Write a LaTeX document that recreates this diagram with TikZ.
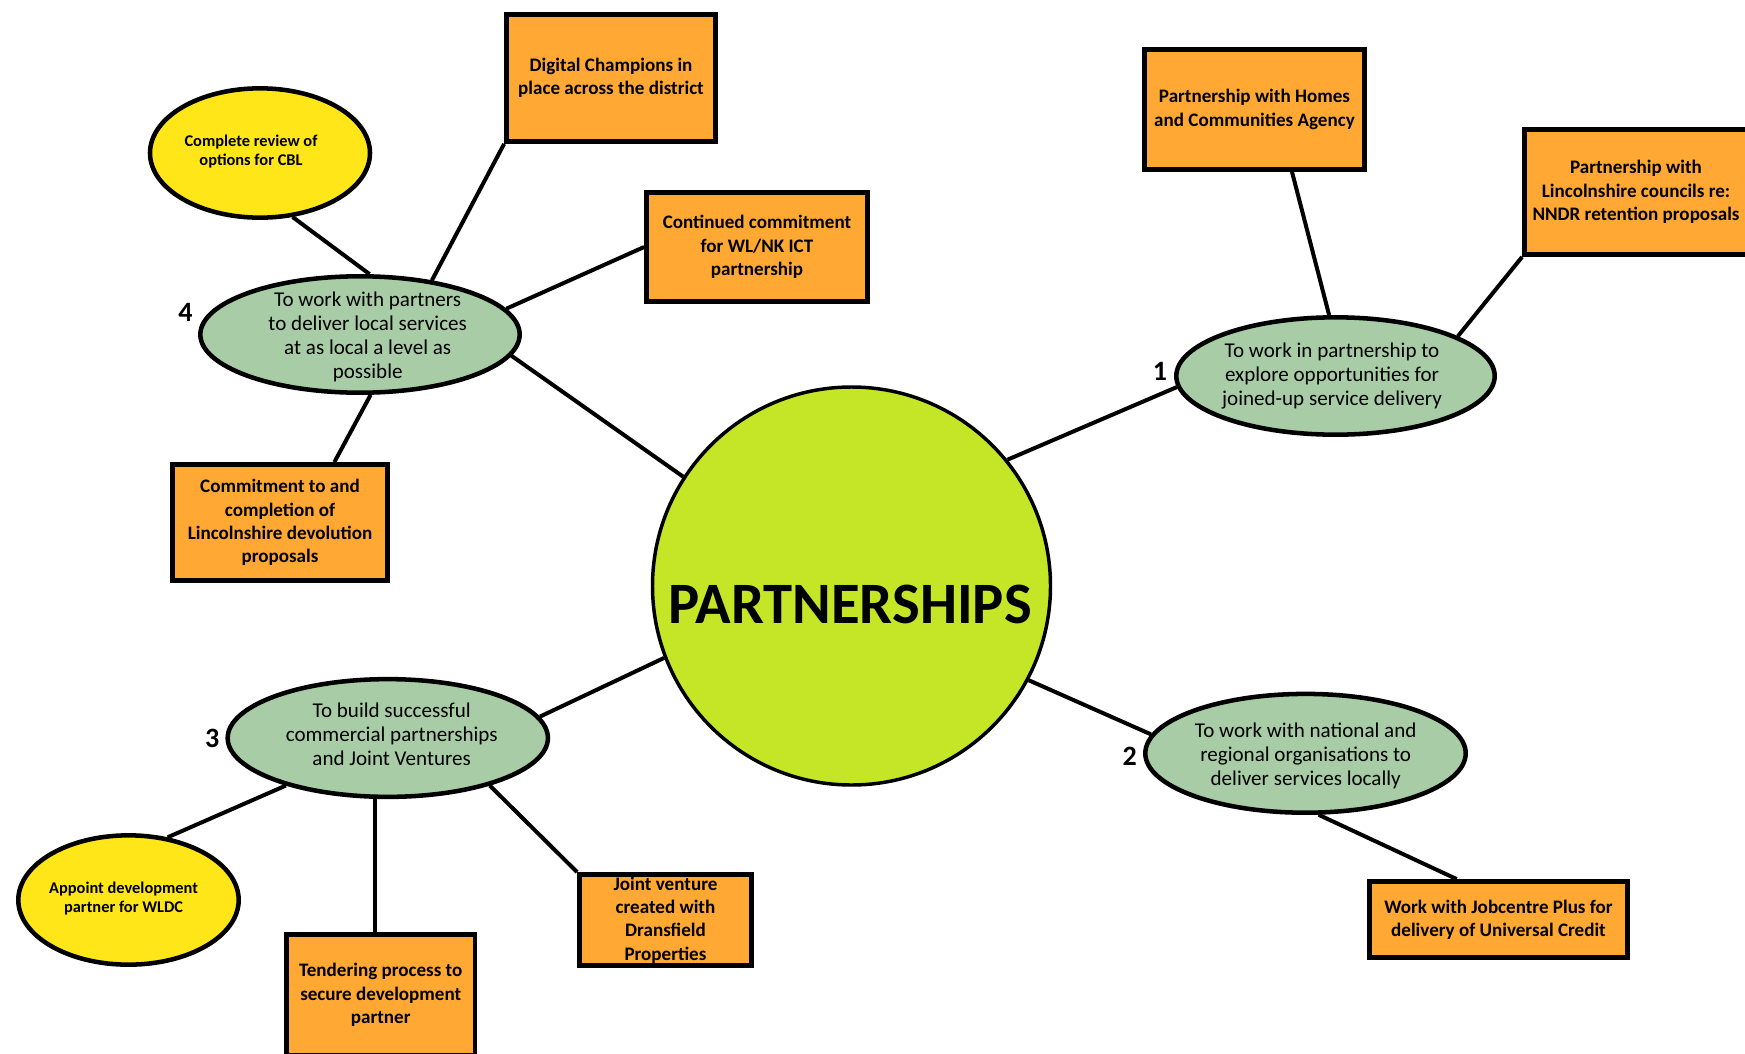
\documentclass[tikz,border=0pt]{standalone}
\usepackage{fontspec}
\setmainfont{Carlito}
\usetikzlibrary{shapes.geometric}
\definecolor{orangebox}{HTML}{FFA833}
\definecolor{greenell}{HTML}{A8CDA6}
\definecolor{yellowell}{HTML}{FFE619}
\definecolor{limec}{HTML}{C5E627}
\tikzset{
 obox/.style={draw=black, line width=3.6pt, fill=orangebox, rectangle, inner sep=0pt, align=center, font=\bfseries\fontsize{14.3}{17.5}\selectfont},
 gell/.style={draw=black, line width=3.4pt, fill=greenell, ellipse, inner sep=0pt},
 yell/.style={draw=black, line width=3.4pt, fill=yellowell, ellipse, inner sep=0pt},
 gtext/.style={inner sep=0pt, align=center, font=\fontsize{15.8}{18}\selectfont},
 ytext/.style={inner sep=0pt, align=center, font=\bfseries\fontsize{12.3}{14.3}\selectfont},
 numlab/.style={inner sep=0pt, font=\bfseries\fontsize{21}{25}\selectfont},
 conn/.style={line width=3pt, draw=black},
}
\begin{document}
\begin{tikzpicture}[x=0.75pt, y=-0.75pt]
\useasboundingbox (0,0) rectangle (1745,1053);
\clip (0,0) rectangle (1745,1053);
\fill[white] (0,0) rectangle (1745,1053);

% centre
\node[circle, draw=black, line width=2.6pt, fill=limec, minimum size=298.5pt, inner sep=0pt] (c) at (851.5,586) {};
\node[inner sep=0pt, font=\bfseries\fontsize{44}{52}\selectfont] (ctext) at (850,604) {PARTNERSHIPS};

% green ellipses
\node[gell, minimum width=239.5pt, minimum height=87.3pt] (e4) at (360,334.5) {};
\node[gell, minimum width=238.8pt, minimum height=88pt] (e1) at (1335.5,376) {};
\node[gell, minimum width=240.2pt, minimum height=88.3pt] (e3) at (387.8,738) {};
\node[gell, minimum width=240.3pt, minimum height=89.1pt] (e2) at (1305.5,753.3) {};

% yellow ellipses
\node[yell, minimum width=165pt, minimum height=97pt] (cr) at (260,153) {};
\node[yell, minimum width=165.3pt, minimum height=97pt] (ap) at (128.5,900) {};

% orange boxes
\node[obox, minimum width=156.75pt, minimum height=95.25pt] (dig) at (611,78) {Digital Champions in\\place across the district};
\node[obox, minimum width=165.75pt, minimum height=81.75pt] (cont) at (757,247) {Continued commitment\\for WL/NK ICT\\partnership};
\node[obox, minimum width=161.25pt, minimum height=87pt] (comm) at (280,522.5) {Commitment to and\\completion of\\Lincolnshire devolution\\proposals};
\node[obox, minimum width=165pt, minimum height=90pt] (homes) at (1254.5,109.5) {Partnership with Homes\\and Communities Agency};
\node[obox, minimum width=167.25pt, minimum height=93.75pt] (lincs) at (1636,192) {Partnership with\\Lincolnshire councils re:\\NNDR retention proposals};
\node[obox, minimum width=193.5pt, minimum height=57pt] (job) at (1498.5,919.5) {Work with Jobcentre Plus for\\delivery of Universal Credit};
\node[obox, minimum width=129pt, minimum height=68.25pt] (joint) at (665.5,920) {Joint venture\\created with\\Dransfield\\Properties};
\node[obox, minimum width=141.4pt, minimum height=90.75pt] (tend) at (380.75,995) {Tendering process to\\secure development\\partner};

% ellipse texts
\node[gtext] (e4t) at (367.7,337) {To work with partners\\to deliver local services\\at as local a level as\\possible};
\node[gtext] (e1t) at (1332,376) {To work in partnership to\\explore opportunities for\\joined-up service delivery};
\node[gtext] (e3t) at (391.7,734.5) {To build successful\\commercial partnerships\\and Joint Ventures};
\node[gtext] (e2t) at (1305.7,756) {To work with national and\\regional organisations to\\deliver services locally};
\node[ytext] (crt) at (251,151.5) {Complete review of\\options for CBL};
\node[ytext] (apt) at (123.6,898.8) {Appoint development\\partner for WLDC};

% numbers
\node[numlab] (n4) at (185.5,312) {4};
\node[numlab] (n1) at (1160,371) {1};
\node[numlab] (n3) at (212.3,738) {3};
\node[numlab] (n2) at (1129.6,756.7) {2};

% connectors
\draw[conn] (c.147.6) -- (e4.-8.4);
\draw[conn] (c.39.6) -- (e1.-176.2);
\draw[conn] (c.201) -- (e3.8.4);
\draw[conn] (c.-28.8) -- (e2.173.3);
\draw[conn] (e4.37.7) -- (dig.south west);
\draw[conn] (e4.10.1) -- (cont.west);
\draw[conn] (e4.81.8) -- (cr.-63.1);
\draw[conn] (e4.-80) -- (comm.48);
\draw[conn] (e1.96.8) -- (homes.-59.6);
\draw[conn] (e1.18.4) -- (lincs.south west);
\draw[conn] (e3.205.2) -- (ap.58.8);
\draw[conn] (e3.-102) -- (e3.-102 |- tend.north);
\draw[conn] (e3.-25) -- (joint.north west);
\draw[conn] (e2.-78.2) -- (job.136.7);
\end{tikzpicture}
\end{document}
